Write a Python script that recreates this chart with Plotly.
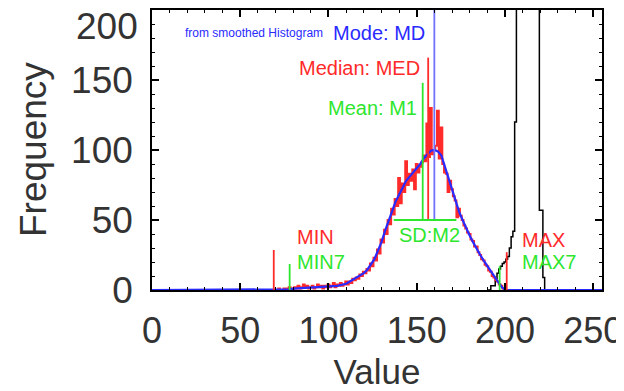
import plotly.graph_objects as go

# ---------------- data ----------------
# raw histogram (red), bins of width 1
red_x = list(range(70, 201))
red_y = [0, 0, 1, 0, 0, 1, 0, 1,                      # 70-77
         2, 1, 0, 2, 1, 3, 1, 2, 4, 2, 3, 1, 2, 3, 1, 2, 4, 2, 3, 1, 3, 2,   # 78-99
         4, 2, 3, 5, 2, 4, 3, 5, 3, 4, 6, 4, 6, 5, 8, 7, 9, 8, 11, 10,       # 100-119
         13, 12, 15, 14, 19, 17, 23, 21, 29, 26, 36, 34, 43, 40, 50, 47, 58, 54, 65, 60,  # 120-139
         80, 62, 76, 70, 92, 75, 83, 78, 86, 72, 90, 84, 88, 91, 96, 92, 119, 95, 130, 97,  # 140-159
         100, 103, 128, 94, 116, 90, 84, 83, 70, 78, 72, 67, 64, 52, 58, 53, 50, 46, 44, 41,  # 160-179
         40, 36, 35, 31, 31, 27, 25, 22, 21, 18, 17, 14, 13, 10, 9, 7, 6, 4, 3, 1,  # 180-199
         0]

# smoothed histogram (blue)
blue_x = [0, 70, 78, 80, 85, 90, 95, 100, 105, 110, 115, 118, 120, 122, 124, 126, 128, 130,
          132, 134, 136, 138, 140, 142, 144, 146, 148, 150, 152, 154, 156, 158, 160, 162,
          164, 166, 168, 170, 172, 174, 176, 178, 180, 182, 184, 186, 188, 190, 192, 194,
          196, 198, 200, 255]
blue_y = [0, 0, 0.5, 1, 1.5, 2, 2, 2.5, 3, 4.5, 8, 10, 12, 14.5, 18, 22, 28, 34,
          42, 49, 56, 63, 68, 73, 78, 81, 84, 87, 90, 94, 97, 99.5, 100, 99,
          96, 88, 79, 71, 63, 56, 50, 44, 39, 34, 30, 25, 21, 17, 13, 9,
          6, 2.5, 0, 0]

# second histogram (black)
black_x = [190, 194, 195, 196, 197, 198, 199, 200, 201, 202, 203, 204, 205, 206, 207,
           210, 215, 219, 220, 221, 222, 223, 224, 255]
black_y = [0, 3, 8, 12, 15, 17, 19, 20, 22, 24, 30, 38, 42, 120, 400,
           400, 400, 400, 57, 57, 9, 0, 0, 0]

# statistics markers
mode_md = 160.0
median_med = 156.5
mean_m1 = 153.4
sd_lo, sd_hi = 137.0, 172.5
min_v, min7_v = 69.0, 78.0
max_v, max7_v = 201.0, 197.0
stat_base = 50
mode_top, median_top, mean_top = 200, 166, 148
min_top, min7_top = 28.6, 18.6
max_top, max7_top = 27, 17

x_ticks = [0, 50, 100, 150, 200, 250]
x_tick_text = ["0", "50", "100", "150", "200", "250"]
y_ticks = [0, 50, 100, 150, 200]
y_tick_text = ["0", "50", "100", "150", ""]   # top label drawn separately below
y_top_label = "200"

RED = "#ff2a2a"
GREEN = "#2ee62e"
BLUE = "#2a2aff"
TXT = "#333333"
FONT = "Liberation Sans, Arial, sans-serif"

fig = go.Figure()
fig.add_trace(go.Scatter(x=black_x, y=black_y, mode="lines", line=dict(color="black", width=1.5, shape="hvh")))
fig.add_trace(go.Scatter(x=red_x, y=red_y, mode="lines", line=dict(color=RED, width=2, shape="hvh")))
fig.add_trace(go.Scatter(x=blue_x, y=blue_y, mode="lines", line=dict(color=BLUE, width=2.2)))

# vertical stat lines
for xv, y0, y1, col in [(mode_md, stat_base, mode_top, "#7070ff"),
                        (median_med, stat_base, median_top, RED),
                        (mean_m1, stat_base, mean_top, GREEN),
                        (min_v, 0, min_top, RED),
                        (min7_v, 0, min7_top, GREEN),
                        (max_v, 0, max_top, RED),
                        (max7_v, 0, max7_top, GREEN)]:
    fig.add_trace(go.Scatter(x=[xv, xv], y=[y0, y1], mode="lines", line=dict(color=col, width=1.8)))
fig.add_trace(go.Scatter(x=[sd_lo, sd_hi], y=[stat_base, stat_base], mode="lines", line=dict(color=GREEN, width=1.8)))

def ann(text, x, y, col, size, anchor):
    fig.add_annotation(text=text, x=x, y=y, xref="x", yref="y", showarrow=False,
                       xanchor=anchor, yanchor="middle", font=dict(color=col, size=size, family=FONT))

ann("from smoothed Histogram", 98.1, 183.6, BLUE, 12, "right")
ann("Mode: MD", 155.9, 183.6, BLUE, 20, "right")
ann("Median: MED", 153.0, 158.6, RED, 20, "right")
ann("Mean: M1", 151.3, 130, GREEN, 20, "right")
ann("MIN", 81.1, 37.9, RED, 20, "left")
ann("MIN7", 81.1, 20, GREEN, 20, "left")
ann("SD:M2", 138.9, 39.3, GREEN, 20, "left")
ann("MAX", 208.4, 35.7, RED, 20, "left")
ann("MAX7", 208.4, 20, GREEN, 20, "left")

# top y tick label, kept inside the page
fig.add_annotation(text=y_top_label, x=0, y=y_ticks[-1], xref="paper", yref="y", showarrow=False,
                   xanchor="right", yanchor="middle", xshift=-12, yshift=-16,
                   font=dict(color=TXT, size=37, family=FONT))
# y-axis title
fig.add_annotation(text="Frequency", x=0, y=0.5, xref="paper", yref="paper", showarrow=False,
                   xanchor="center", yanchor="middle", xshift=-119, textangle=-90,
                   font=dict(color=TXT, size=37, family=FONT))

axis_common = dict(showgrid=False, zeroline=False, showline=True, linecolor="black", linewidth=1.5,
                   mirror="ticks", ticks="inside", ticklen=7, tickwidth=1.5, tickcolor="black",
                   automargin=False, ticklabeloverflow="allow")
fig.update_xaxes(range=[0, 255], tickvals=x_ticks, ticktext=x_tick_text, ticklabelstandoff=8,
                 tickfont=dict(family=FONT, size=36, color=TXT),
                 minor=dict(dtick=10, ticklen=3, ticks="inside", tickcolor="black", tickwidth=1.2),
                 title=dict(text="Value", font=dict(family=FONT, size=35, color=TXT), standoff=13),
                 **axis_common)
fig.update_yaxes(range=[0, 200], tickvals=y_ticks, ticktext=y_tick_text, ticklabelstandoff=10,
                 tickfont=dict(family=FONT, size=37, color=TXT),
                 minor=dict(dtick=10, ticklen=3, ticks="inside", tickcolor="black", tickwidth=1.2),
                 **axis_common)
# the page adds an 8px body margin: the figure fills the rest of the window
fig.update_layout(width=616, height=383, showlegend=False, plot_bgcolor="white", paper_bgcolor="white",
                  margin=dict(l=144, r=22, t=2, b=101), font=dict(family=FONT))
fig.write_html("out.html",
               post_script="document.documentElement.style.overflow='hidden';"
                           "document.body.style.overflow='hidden';")
